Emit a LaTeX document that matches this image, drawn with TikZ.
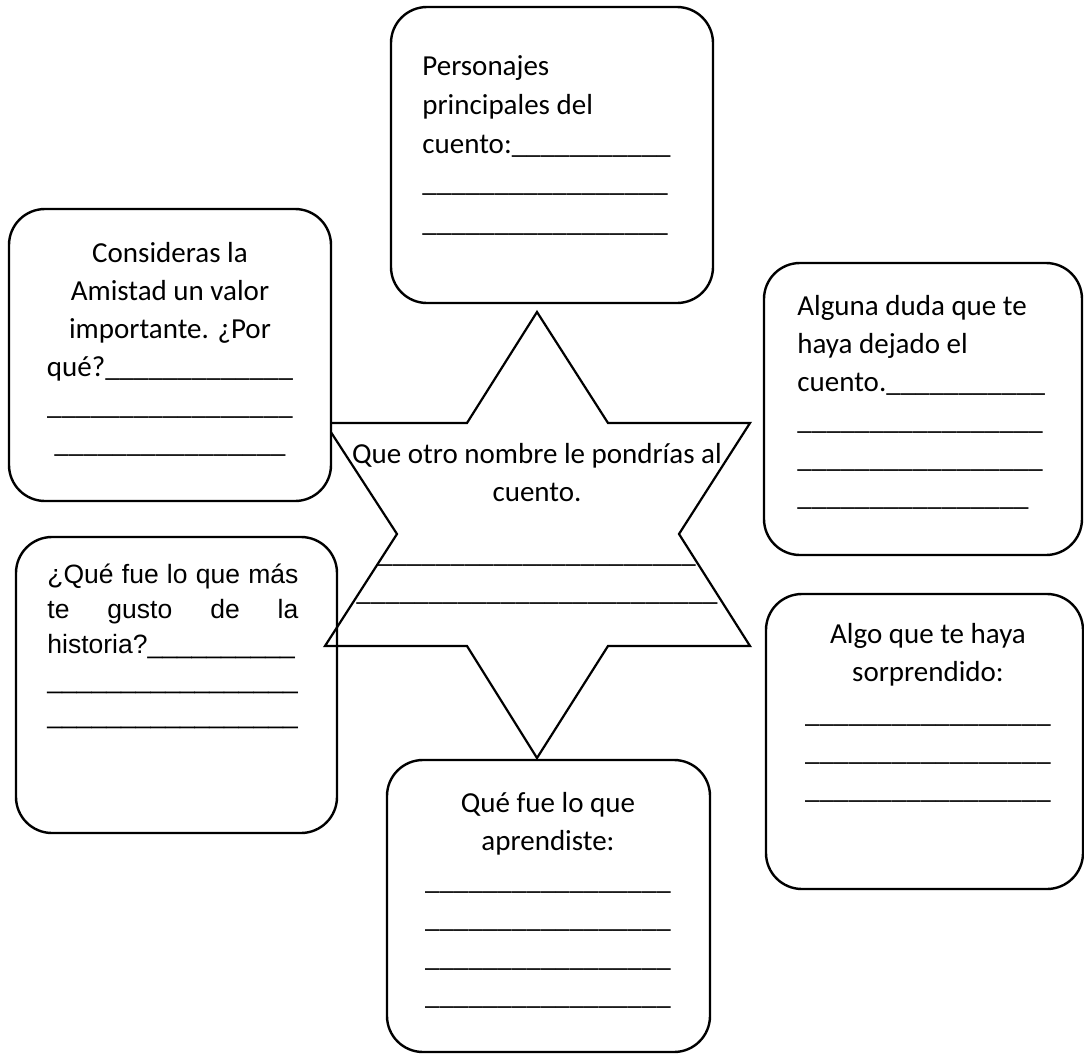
\documentclass[tikz,border=0pt]{standalone}
\usepackage{fontspec}
\setmainfont{Carlito}
\newfontfamily\arialfont{Liberation Sans}
\newcommand\blanks[1]{\foreach\k in {1,...,#1}{\_}}

\begin{document}
\begin{tikzpicture}[x=0.5pt,y=-0.5pt,
  card/.style={shape=rectangle,draw=black,fill=white,line width=1.2pt,rounded corners=18pt},
  txt/.style={inner sep=0pt,anchor=base,font=\fontsize{14.5}{19}\selectfont}]
\useasboundingbox (0,0) rectangle (1084,1055);

\node[card,minimum width=160.5pt,minimum height=148pt] (gusto) at (176.5,685) {};

\draw[line width=1.1pt,line join=miter] (537,312) -- (608,423) -- (750,423) -- (679,534) -- (750,646) -- (608,646) -- (537,758) -- (467,646) -- (325,646) -- (397,534) -- (325,423) -- (467,423) -- cycle;

\node[card,minimum width=161pt,minimum height=148pt] (pers) at (552,155) {};
\node[card,minimum width=161pt,minimum height=146pt] (amist) at (170,355) {};
\node[card,minimum width=159pt,minimum height=146pt] (duda) at (923,409) {};
\node[card,minimum width=158.5pt,minimum height=147.5pt] (sorpr) at (924.5,741.5) {};
\node[card,minimum width=161.5pt,minimum height=146pt] (aprend) at (548.5,906) {};

\node[txt,text width=230pt,align=flush center] (nombre) at (537,463) {Que otro nombre le pondrías al\\cuento.\\[11.5pt]\blanks{22}\\\blanks{25}};
\node[txt,font=\fontsize{14.5}{19.5}\selectfont,anchor=base west,text width=140pt,align=flush left] (perstxt) at (422,75) {Personajes\\principales del\\cuento:\blanks{11}\\\blanks{17}\\\blanks{17}};
\node[txt,text width=140pt,align=flush center] (amisttxt) at (170,262) {Consideras la\\Amistad un valor\\importante. ¿Por\\qué?\blanks{13}\\\blanks{17}\\\blanks{16}};
\node[txt,anchor=base west,text width=140pt,align=flush left] (dudatxt) at (797,315) {Alguna duda que te\\haya dejado el\\cuento.\blanks{11}\\\blanks{17}\\\blanks{17}\\\blanks{16}};
\node[txt,font=\arialfont\fontsize{13.25}{17.5}\selectfont,anchor=base west,align=flush left,text width=125.5pt] (gustotxt) at (47,583) {¿Qué\hfill fue\hfill lo\hfill que\hfill más\\te\hfill gusto\hfill de\hfill la\\historia?\blanks{10}\\\blanks{17}\\\blanks{17}};
\node[txt,text width=140pt,align=flush center] (sorprtxt) at (928,643) {Algo que te haya\\sorprendido:\\[1.5pt]\blanks{17}\\\blanks{17}\\\blanks{17}};
\node[txt,font=\fontsize{14.5}{19.25}\selectfont,text width=140pt,align=flush center] (aprendtxt) at (548,812) {Qué fue lo que\\aprendiste:\\\blanks{17}\\\blanks{17}\\\blanks{17}\\\blanks{17}};
\end{tikzpicture}
\end{document}
